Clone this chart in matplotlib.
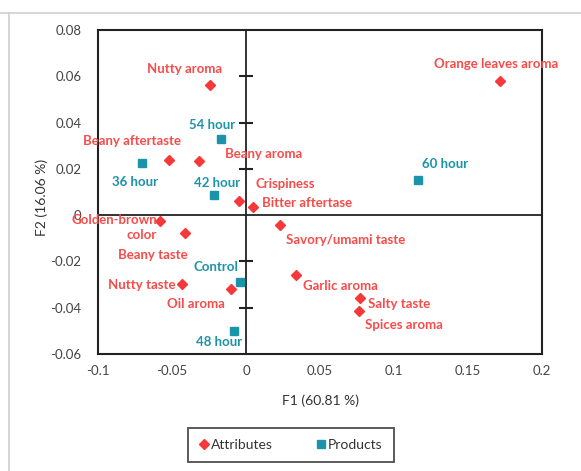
import matplotlib
matplotlib.use("Agg")
import matplotlib.pyplot as plt
from matplotlib.lines import Line2D

# attributes (red diamonds)
attr_names = ["Nutty aroma", "Beany aftertaste", "Beany aroma", "Crispiness", "Bitter aftertase",
              "Golden-brown\ncolor", "Beany taste", "Nutty taste", "Oil aroma", "Savory/umami taste",
              "Garlic aroma", "Salty taste", "Spices aroma", "Orange leaves aroma"]
attr_f1 = [-0.0242, -0.0518, -0.0317, -0.0045, 0.0047, -0.0581, -0.0412, -0.0430, -0.0100, 0.0233,
           0.0337, 0.0769, 0.0762, 0.1714]
attr_f2 = [0.0561, 0.0240, 0.0236, 0.0063, 0.0035, -0.0025, -0.0076, -0.0299, -0.0321, -0.0043,
           -0.0260, -0.0360, -0.0413, 0.0578]

# products (teal squares)
prod_names = ["54 hour", "36 hour", "42 hour", "Control", "48 hour", "60 hour"]
prod_f1 = [-0.0170, -0.0701, -0.0213, -0.0043, -0.0084, 0.1164]
prod_f2 = [0.0328, 0.0226, 0.0085, -0.0289, -0.0499, 0.0150]

xticks = [-0.1, -0.05, 0, 0.05, 0.1, 0.15, 0.2]
xtick_labels = ["-0.1", "-0.05", "0", "0.05", "0.1", "0.15", "0.2"]
yticks = [-0.06, -0.04, -0.02, 0, 0.02, 0.04, 0.06, 0.08]
ytick_labels = ["-0.06", "-0.04", "-0.02", "0", "0.02", "0.04", "0.06", "0.08"]

# label offsets in pixels (dx, dy) and alignment
attr_offsets = [(-26, 16, "center"), (-37, 19, "center"), (26, 7, "left"), (16, 17, "left"),
                (9, 4, "left"), (-3, -7, "right"), (-32, -22, "center"), (-7, -1, "right"),
                (-35, -15, "center"), (6, -15, "left"), (7, -11, "left"), (8, -6, "left"),
                (6, -14, "left"), (-4, 17, "center")]
prod_offsets = [(-9, 14, "center"), (-7, -19, "center"), (3, 12, "center"), (-24, 15, "center"),
                (-15, -11, "center"), (27, 16, "center")]

RED = "#f5393a"
RED_TXT = "#f64c4a"
TEAL = "#1b93a8"

plt.rcParams['font.family'] = ['Lato', 'DejaVu Sans']

fig = plt.figure(figsize=(5.81, 4.71), dpi=100)
ax = fig.add_axes([98/581, 1-354/471, 444/581, 324/471])

ax.set_xlim(-0.1, 0.2)
ax.set_ylim(-0.06, 0.08)
ax.set_xticks(xticks)
ax.set_xticklabels(xtick_labels)
ax.set_yticks(yticks)
ax.set_yticklabels(ytick_labels)
ax.tick_params(length=0, labelsize=9.5, labelcolor="#444444")
ax.tick_params(axis="y", pad=12)
ax.tick_params(axis="x", pad=8)
for s in ax.spines.values():
    s.set_linewidth(1.5)
    s.set_color("#222222")

ax.axhline(0, color="#222222", lw=1.3, zorder=1)
ax.axvline(0, color="#222222", lw=1.3, zorder=1)
cross = [y for y in yticks if y not in (0, -0.06, 0.08)]
ax.plot([0]*len(cross), cross, linestyle="none", marker="_", markersize=10,
        markeredgewidth=1.5, color="#222222", zorder=1)

ax.plot(attr_f1, attr_f2, linestyle="none", marker="D", markersize=5.5, color=RED, zorder=3)
ax.plot(prod_f1, prod_f2, linestyle="none", marker="s", markersize=6, color=TEAL, zorder=3)

for name, x, y, (dx, dy, ha) in zip(attr_names, attr_f1, attr_f2, attr_offsets):
    ax.annotate(name, (x, y), xytext=(dx*0.72, dy*0.72), textcoords="offset points",
                ha=ha, va="center", fontsize=9.5, fontweight="bold", color=RED_TXT,
                multialignment="right", linespacing=1.3, annotation_clip=False)
for name, x, y, (dx, dy, ha) in zip(prod_names, prod_f1, prod_f2, prod_offsets):
    ax.annotate(name, (x, y), xytext=(dx*0.72, dy*0.72), textcoords="offset points",
                ha=ha, va="center", fontsize=9.5, fontweight="bold", color=TEAL,
                annotation_clip=False)

fig.text(321/581, 1-401/471, "F1 (60.81 %)", ha="center", va="center", fontsize=10, color="#333333")
fig.text(42/581, 1-197/471, "F2 (16.06 %)", ha="center", va="center", rotation=90,
         fontsize=10, color="#333333")

handles = [Line2D([], [], linestyle="none", marker="D", markersize=5.5, color=RED),
           Line2D([], [], linestyle="none", marker="s", markersize=6, color=TEAL)]
leg = fig.legend(handles, ["Attributes", "Products"], loc="center", ncol=2,
                 bbox_to_anchor=(291/581, 1-445/471), frameon=True, fancybox=False,
                 edgecolor="#222222", fontsize=10, handlelength=0.6, handletextpad=0.2,
                 columnspacing=3.2, borderpad=0.8, borderaxespad=0)
leg.get_frame().set_linewidth(1.3)
for t in leg.get_texts():
    t.set_color("#333333")

# light border of the screenshot
fig.add_artist(Line2D([0, 1], [1-13/471, 1-13/471], color="#d0d0d0", lw=1.2))
fig.add_artist(Line2D([9/581, 9/581], [0, 1-13/471], color="#d0d0d0", lw=1.2))

fig.savefig("out.png", dpi=100)
